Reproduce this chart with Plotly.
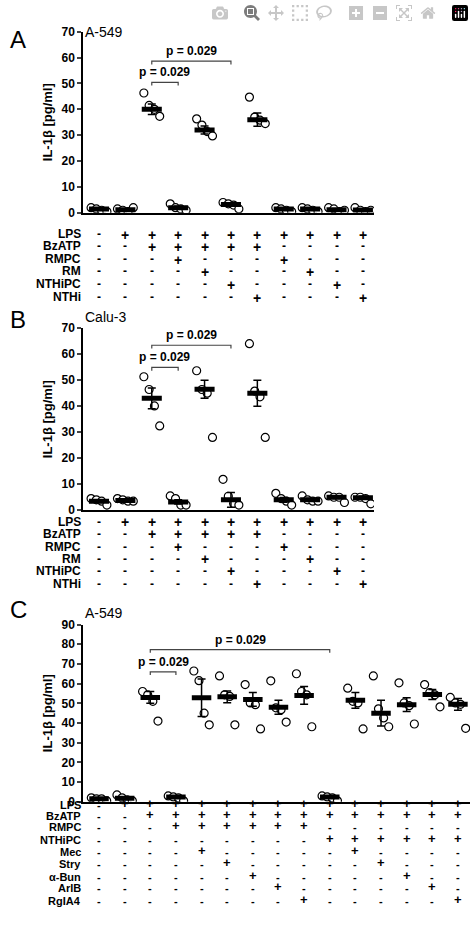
import plotly.graph_objects as go

# ---- data ----
a_points = [[2, 1.5, 1, 0.5], [1.5, 1, 0.5, 2], [46.3, 41.5, 40, 37.3], [3.5, 2, 1.5, 1],
            [36.3, 33.9, 31.4, 29.7], [4, 3.5, 3, 1.5], [44.7, 37, 35.8, 34.5], [2, 1.5, 1, 0.5],
            [2, 1.5, 1, 0.5], [2, 1.5, 0.5, 1], [2, 1, 0.5, 1]]
a_mean = [1.5, 1.2, 40, 2, 32, 3.2, 36, 1.5, 1.5, 1.2, 1.1]
a_sem = [0.3, 0.3, 2, 0.5, 1.5, 0.5, 2.6, 0.3, 0.3, 0.3, 0.3]

b_points = [[4.5, 4, 3.5, 2], [4.5, 4, 3.5, 3.5], [51.3, 46.4, 40.1, 32.4], [5.5, 4.5, 2, 2],
            [53.6, 46.4, 45, 28], [11.9, 5.4, 2.6, 2], [64, 45.8, 43.6, 28], [6.5, 4.5, 3.5, 2],
            [5.5, 4, 3.5, 3.5], [5.5, 5, 5, 3], [5, 5, 4.5, 2.5]]
b_mean = [3.5, 3.8, 43, 3.2, 46.5, 4, 45, 4, 4, 5, 4.8]
b_sem = [0.5, 0.3, 4, 0.8, 3.5, 2.8, 5, 0.9, 0.5, 0.5, 0.6]

c_points = [[2, 1.5, 1.5, 0.5], [3.5, 2, 1, 0.5], [56, 54.3, 51, 41], [3, 2.5, 2, 0.5],
            [66.4, 61.5, 45, 39.1], [63.9, 54.3, 53.5, 39.1], [59.5, 50.2, 49.3, 37],
            [61.4, 47.7, 46.8, 40.5], [65, 56, 54.3, 38.1], [3, 2.5, 2, 0.5],
            [57.7, 51, 50.2, 37], [63.9, 47.2, 42.6, 38.1], [60.4, 50.2, 48.8, 39.5],
            [59.5, 55.5, 54.3, 48.2], [53, 50.2, 49.5, 37.3]]
c_mean = [1.5, 1.8, 53, 2.5, 52.8, 53.3, 52, 48, 54, 2.5, 51.5, 45, 49.3, 54.5, 49.5]
c_sem = [0.4, 0.6, 3, 0.5, 9.5, 3, 3.5, 3.5, 4.5, 0.5, 4, 6.5, 3.5, 2.5, 3]

ab_rows = ["LPS", "BzATP", "RMPC", "RM", "NTHiPC", "NTHi"]
a_table = ["-++++++++++", "--+++++----", "---+---+---", "----+---+--",
           "-----+---+-", "------+---+"]
c_rows = ["LPS", "BzATP", "RMPC", "NTHiPC", "Mec", "Stry", "α-Bun", "ArlB", "RgIA4"]
c_table = ["-++++++++++++++", "--+++++++++++++", "---++++++------", "---------++++++",
           "----+-----+----", "-----+-----+---", "------+-----+--", "-------+-----+-",
           "--------+-----+"]

W, H = 474, 927
jit = [-0.3, -0.1, 0.1, 0.3]
FONT = "Liberation Sans"

fig = go.Figure()

panels = [
    dict(letter="A", title="A-549", pts=a_points, mean=a_mean, sem=a_sem, ymax=70, dt=10,
         y0=209, y1=25, xr=[0.394, 11.42], xend=374, rows=ab_rows, table=a_table,
         rowy=[221, 234, 247, 259, 272, 285], br=[(3, 4, 50.4), (3, 6, 58.6)], top=0),
    dict(letter="B", title="Calu-3", pts=b_points, mean=b_mean, sem=b_sem, ymax=70, dt=10,
         y0=511, y1=326, xr=[0.394, 11.42], xend=374, rows=ab_rows, table=a_table,
         rowy=[523, 535, 548, 560, 573, 586], br=[(3, 4, 54.9), (3, 6, 63.4)], top=300),
    dict(letter="C", title="A-549", pts=c_points, mean=c_mean, sem=c_sem, ymax=90, dt=10,
         y0=807, y1=627, xr=[0.376, 15.47], xend=470, rows=c_rows, table=c_table,
         rowy=[818, 830, 841, 854, 866, 878, 891, 903, 916], br=[(3, 4, 66), (3, 10, 77.3)], top=610),
]

layout = {}
for k, p in enumerate(panels):
    n = k + 1
    xa, ya = ("x" if n == 1 else f"x{n}"), ("y" if n == 1 else f"y{n}")
    layout["xaxis" if n == 1 else f"xaxis{n}"] = dict(
        domain=[83 / W, p["xend"] / W], range=p["xr"], showline=True, linecolor="black",
        linewidth=1.5, showticklabels=False, ticks="", showgrid=False, zeroline=False,
        anchor=ya, fixedrange=True)
    layout["yaxis" if n == 1 else f"yaxis{n}"] = dict(
        domain=[1 - p["y0"] / H, 1 - p["y1"] / H], range=[0, p["ymax"]], dtick=p["dt"],
        showline=True, linecolor="black", linewidth=1.5, ticks="outside", ticklen=4,
        tickwidth=1.5, showgrid=False, zeroline=False, anchor=xa,
        tickfont=dict(family=FONT, size=12, color="black", weight="bold"),
        title=dict(text="IL-1β [pg/ml]", standoff=6,
                   font=dict(family=FONT, size=13, color="black", weight="bold")))
    ng = len(p["pts"])
    # points
    xs, ys = [], []
    for i, grp in enumerate(p["pts"]):
        for j, v in enumerate(grp):
            xs.append(i + 1 + jit[j]); ys.append(v)
    fig.add_trace(go.Scatter(x=xs, y=ys, xaxis=xa, yaxis=ya, mode="markers",
                             marker=dict(symbol="circle", size=8, color="white",
                                         line=dict(color="black", width=1.2)),
                             showlegend=False, hoverinfo="skip"))
    # mean bars
    mx, my = [], []
    for i, m in enumerate(p["mean"]):
        mx += [i + 1 - 0.38, i + 1 + 0.38, None]; my += [m, m, None]
    fig.add_trace(go.Scatter(x=mx, y=my, xaxis=xa, yaxis=ya, mode="lines",
                             line=dict(color="black", width=5), showlegend=False, hoverinfo="skip"))
    # SEM
    fig.add_trace(go.Scatter(x=list(range(1, ng + 1)), y=p["mean"], xaxis=xa, yaxis=ya,
                             mode="markers", marker=dict(size=1, color="black"),
                             error_y=dict(type="data", array=p["sem"], color="black",
                                          thickness=1.5, width=4),
                             showlegend=False, hoverinfo="skip"))
    # brackets
    for (g1, g2, yb) in p["br"]:
        d = p["ymax"] * 0.018
        fig.add_trace(go.Scatter(x=[g1, g1, g2, g2], y=[yb - d, yb, yb, yb - d], xaxis=xa, yaxis=ya,
                                 mode="lines", line=dict(color="#444", width=1.2),
                                 showlegend=False, hoverinfo="skip"))
        fig.add_annotation(x=(g1 + g2) / 2, y=yb, xref=xa, yref=ya, text="p = 0.029",
                           showarrow=False, yanchor="bottom", yshift=1,
                           font=dict(family=FONT, size=12, color="black", weight="bold"))
    # letter and cell line title
    fig.add_annotation(x=8 / W, y=1 - (p["top"] + 17) / H, xref="paper", yref="paper",
                       text=p["letter"], showarrow=False, xanchor="left",
                       font=dict(family=FONT, size=24, color="black"))
    fig.add_annotation(x=83 / W, y=1 - (p["top"] + 15) / H, xref="paper", yref="paper",
                       text=p["title"], showarrow=False, xanchor="left",
                       font=dict(family=FONT, size=14, color="black"))
    # treatment table
    fs = 12 if n < 3 else 11
    for r, (lab, signs) in enumerate(zip(p["rows"], p["table"])):
        yy = 1 - p["rowy"][r] / H
        fig.add_annotation(x=83 / W, y=yy, xref="paper", yref="paper", text=lab, showarrow=False,
                           xanchor="right", font=dict(family=FONT, size=fs, color="black", weight="bold"))
        for i, s in enumerate(signs):
            fig.add_annotation(x=i + 1, y=yy, xref=xa, yref="paper", text="+" if s == "+" else "-",
                               showarrow=False,
                               font=dict(family=FONT, size=fs + 2 if s == "+" else fs, color="black",
                                         weight="bold"))

fig.update_layout(width=W, height=H, margin=dict(l=0, r=0, t=0, b=0),
                  plot_bgcolor="white", paper_bgcolor="white", **layout)
fig.write_html("out.html",
               post_script="document.body.style.margin='0';document.body.style.overflow='hidden';")
